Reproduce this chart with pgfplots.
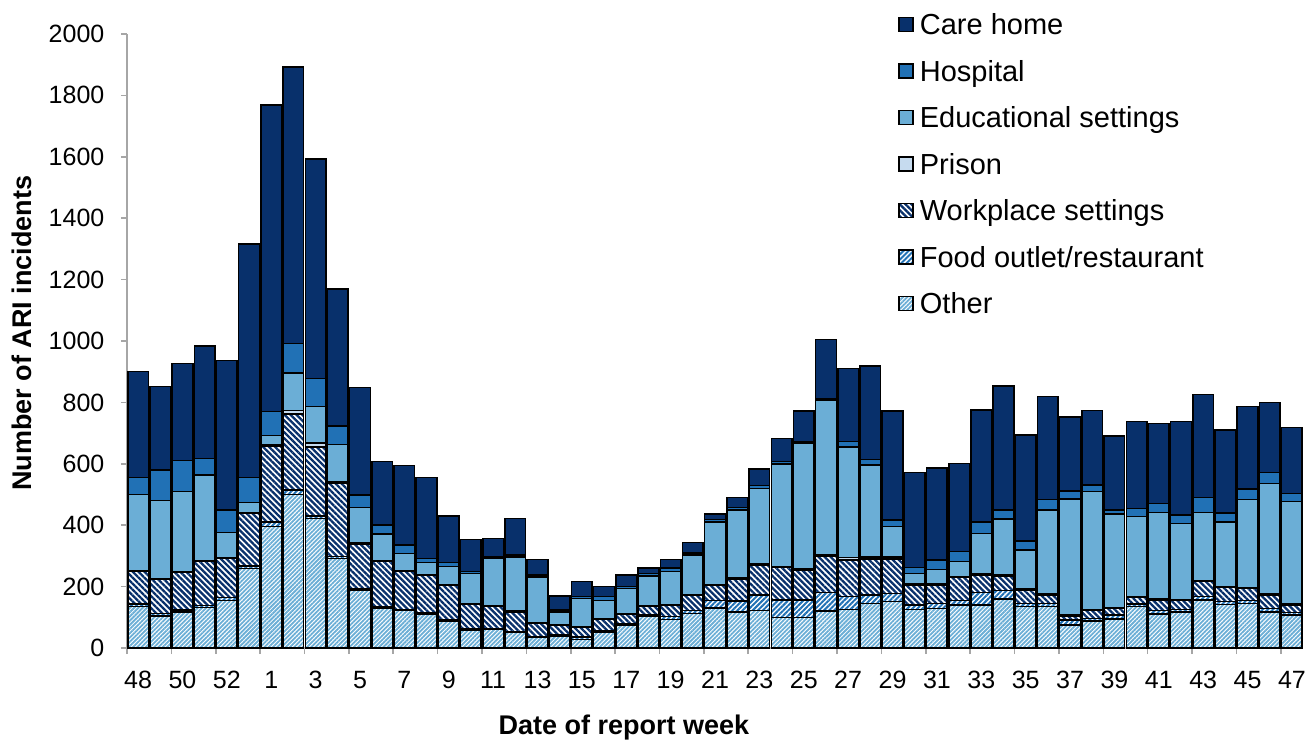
\documentclass[border=0pt]{standalone}
\usepackage{fontspec}
\setmainfont{Liberation Sans}
\usepackage{pgfplots}
\pgfplotsset{compat=1.18}
\usepackage{pgfplotstable}
\usetikzlibrary{patterns.meta}
\definecolor{care}{HTML}{08306B}
\definecolor{hosp}{HTML}{2171B5}
\definecolor{educ}{HTML}{6BAED6}
\definecolor{prison}{HTML}{C6DBEF}
\definecolor{axgray}{HTML}{A6A6A6}
\pgfplotstableread{
x O F W P E H C
0 135 8 107 2 248 55 345
1 105 7 112 2 254 100 272
2 118 5 123 2 261 101 317
3 132 6 144 2 279 55 366
4 155 10 127 3 82 72 487
5 259 8 172 3 32 82 760
6 395 15 248 5 29 78 998
7 500 15 247 11 122 97 901
8 422 8 224 14 118 92 715
9 292 6 240 4 121 60 447
10 189 5 145 3 115 41 350
11 129 4 148 2 88 30 206
12 122 4 123 2 57 27 259
13 111 5 122 2 38 14 264
14 88 4 113 2 58 13 152
15 59 3 80 2 99 7 104
16 61 3 71 2 155 5 60
17 50 3 65 2 177 6 119
18 34 3 43 2 150 5 52
19 39 3 33 2 41 5 47
20 28 8 32 2 92 5 49
21 50 5 38 2 59 13 33
22 75 5 31 2 81 6 38
23 102 6 27 2 98 8 17
24 93 9 38 2 107 11 29
25 113 9 51 2 128 7 34
26 131 23 51 2 204 8 17
27 118 35 72 3 221 8 33
28 122 51 97 3 247 9 54
29 99 57 106 3 334 8 76
30 100 56 98 3 410 5 100
31 120 60 118 5 504 5 193
32 126 41 120 8 359 18 239
33 145 28 117 6 300 18 304
34 151 27 112 7 98 22 355
35 126 14 65 3 35 20 308
36 129 16 60 3 48 31 300
37 140 14 76 3 48 33 287
38 140 41 57 3 132 38 364
39 159 28 48 3 182 29 405
40 135 10 44 3 127 30 345
41 135 10 28 3 273 34 336
42 75 16 13 3 378 26 242
43 88 8 26 3 384 22 242
44 94 13 22 3 304 13 241
45 135 8 22 3 260 27 282
46 111 11 34 3 282 30 261
47 118 8 28 3 249 27 304
48 156 11 49 3 222 49 336
49 142 9 47 3 210 28 271
50 145 9 40 3 287 34 268
51 118 11 44 3 360 35 228
52 107 8 25 3 334 27 215
}\data
\begin{document}
\begin{tikzpicture}
\begin{axis}[
  name=ax,
  width=588pt, height=307pt, scale only axis,
  xmin=-0.5, xmax=52.5, ymin=0, ymax=2000,
  enlargelimits=false,
  ybar stacked, bar width=0.93,
  axis x line*=bottom, axis y line*=left,
  axis line style={draw=axgray, line width=0.8pt, -},
  tick align=outside,
  major tick length=3pt,
  tick style={draw=axgray, line width=0.8pt},
  ytick={0,200,...,2000},
  xtick={-0.5,1.5,...,51.5},
  xticklabels={48,50,52,1,3,5,7,9,11,13,15,17,19,21,23,25,27,29,31,33,35,37,39,41,43,45,47},
  xticklabel style={xshift=5.55pt, yshift=-5pt},
  yticklabel style={xshift=-4.8pt},
  ticklabel style={font=\fontsize{12.5}{15}\selectfont},
  /pgf/number format/assume math mode=true,
  /pgf/number format/1000 sep={},
  scaled y ticks=false,
  xlabel={Date of report week},
  ylabel={Number of ARI incidents},
  label style={font=\bfseries\fontsize{13.5}{16}\selectfont},
  xlabel style={at={(axis description cs:0.4226,-0.1287)}, anchor=center},
  ylabel style={at={(axis description cs:-0.0893,0.513)}, anchor=center},
  reverse legend,
  legend style={at={(axis description cs:0.6556,1.032)}, anchor=north west,
    draw=none, fill=none, inner sep=0pt,
    font=\fontsize{14.5}{17}\selectfont,
    row sep=10.25pt, column sep=3pt,
    nodes={inner sep=0pt, text height=10pt, text depth=3pt}},
  legend cell align=left,
  legend image code/.code={\draw[#1, line width=0.75pt] (0pt,-1.8pt) rectangle (7pt,5.2pt);},
]
\addplot[draw=black, line width=0.75pt, preaction={fill=white}, pattern={Lines[angle=45,distance=1.5pt,line width=0.9pt]}, pattern color=educ] table[x=x,y=O]{\data};
\addplot[draw=black, line width=0.75pt, preaction={fill=white}, pattern={Lines[angle=45,distance=1.8pt,line width=1pt]}, pattern color=hosp] table[x=x,y=F]{\data};
\addplot[draw=black, line width=0.75pt, preaction={fill=white}, pattern={Lines[angle=-45,distance=2.1pt,line width=1.15pt]}, pattern color=care] table[x=x,y=W]{\data};
\addplot[draw=black, line width=0.75pt, fill=prison] table[x=x,y=P]{\data};
\addplot[draw=black, line width=0.75pt, fill=educ] table[x=x,y=E]{\data};
\addplot[draw=black, line width=0.75pt, fill=hosp] table[x=x,y=H]{\data};
\addplot[draw=black, line width=0.75pt, fill=care] table[x=x,y=C]{\data};
\legend{Other,Food outlet/restaurant,Workplace settings,Prison,Educational settings,Hospital,Care home}
\end{axis}
\pgfresetboundingbox
\path[use as bounding box] ([shift={(-63.5pt,-47pt)}]ax.south west) rectangle ([shift={(1.5pt,17pt)}]ax.north east);
\end{tikzpicture}
\end{document}
